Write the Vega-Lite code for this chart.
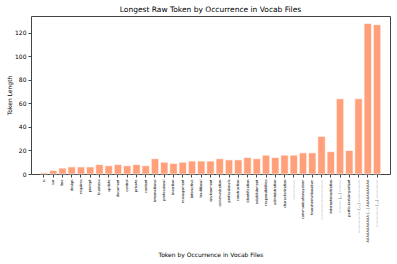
{
  "$schema": "https://vega.github.io/schema/vega-lite/v6.json",
  "autosize": "none",
  "width": 359,
  "height": 158,
  "padding": {"left": 31, "top": 16, "right": 7, "bottom": 90},
  "background": "white",
  "title": {
    "text": "Longest Raw Token by Occurrence in Vocab Files",
    "fontSize": 7.5,
    "font": "DejaVu Sans",
    "fontWeight": "normal",
    "color": "#000",
    "anchor": "middle",
    "offset": 3
  },
  "data": {
    "values": [
      {"token": "n", "length": 1},
      {"token": "sur", "length": 3},
      {"token": "line", "length": 5},
      {"token": "design", "length": 6},
      {"token": "requires", "length": 6},
      {"token": "prompt", "length": 6},
      {"token": "business", "length": 8},
      {"token": "update", "length": 7},
      {"token": "document", "length": 8},
      {"token": "control", "length": 7},
      {"token": "private", "length": 8},
      {"token": "content", "length": 7},
      {"token": "international", "length": 13},
      {"token": "professional", "length": 10},
      {"token": "insertion", "length": 9},
      {"token": "management", "length": 10},
      {"token": "interactive", "length": 11},
      {"token": "traditional", "length": 11},
      {"token": "environment", "length": 11},
      {"token": "communication", "length": 13},
      {"token": "professionals", "length": 12},
      {"token": "construction", "length": 12},
      {"token": "identification", "length": 14},
      {"token": "establishment", "length": 13},
      {"token": "responsibilities", "length": 16},
      {"token": "administration", "length": 14},
      {"token": "characterization", "length": 16},
      {"token": "----------------", "length": 16},
      {"token": "communicationsystem", "length": 18},
      {"token": "transformationalism", "length": 18},
      {"token": "--------------------------------", "length": 32},
      {"token": "internationalization", "length": 19},
      {"token": "---------- [...] ----------", "length": 64},
      {"token": "particularlyimportant", "length": 20},
      {"token": "------------------ [...] ------------------", "length": 64},
      {"token": "AAAAAAAAAAA [...] AAAAAAAAAAA", "length": 128},
      {"token": "---------------- [...] ---------------", "length": 127}
    ]
  },
  "mark": {"type": "bar", "color": "#FFA07A", "stroke": "white", "strokeWidth": 0.6},
  "encoding": {
    "x": {
      "field": "token",
      "type": "nominal",
      "sort": null,
      "scale": {"paddingInner": 0.2, "paddingOuter": 1.84},
      "axis": {
        "title": "Token by Occurrence in Vocab Files",
        "labelAngle": -90,
        "labelAlign": "right",
        "labelBaseline": "middle",
        "labelFontSize": 3.5,
        "labelFont": "DejaVu Sans",
        "labelColor": "#000",
        "labelPadding": 2,
        "labelOverlap": false,
        "labelLimit": 200,
        "tickSize": 3,
        "tickColor": "#444",
        "domain": false,
        "titleFontSize": 6,
        "titleFont": "DejaVu Sans",
        "titleFontWeight": "normal",
        "titleColor": "#000",
        "titleY": 80,
        "titleBaseline": "middle"
      }
    },
    "y": {
      "field": "length",
      "type": "quantitative",
      "scale": {"domain": [0, 134.4], "nice": false},
      "axis": {
        "title": "Token Length",
        "values": [0, 20, 40, 60, 80, 100, 120],
        "grid": false,
        "domain": false,
        "tickSize": 3,
        "tickColor": "#444",
        "labelFontSize": 6,
        "labelFont": "DejaVu Sans",
        "labelColor": "#000",
        "labelPadding": 2,
        "titleFontSize": 6,
        "titleFont": "DejaVu Sans",
        "titleFontWeight": "normal",
        "titleColor": "#000",
        "titleX": -22,
        "titleY": 79,
        "titleAlign": "center",
        "titleBaseline": "middle"
      }
    }
  },
  "config": {
    "view": {"stroke": "#444", "strokeWidth": 1}
  }
}
